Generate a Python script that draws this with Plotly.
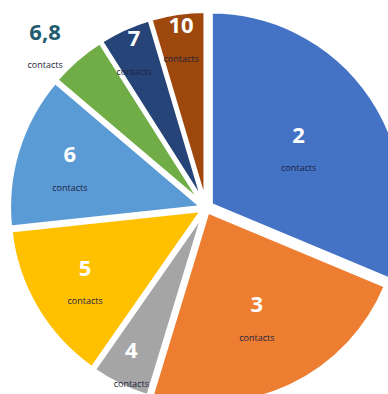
import plotly.graph_objects as go

labels = ["2", "3", "4", "5", "6", "6,8", "7", "10"]
values = [31.3, 23.4, 5.0, 13.6, 12.9, 4.8, 4.4, 4.6]
colors = ["#4472C4", "#ED7D31", "#A5A5A5", "#FFC000", "#5B9BD5", "#70AD47", "#264478", "#9E480E"]
sub = "contacts"
positions = ["inside", "inside", "inside", "inside", "inside", "outside", "inside", "inside"]
pulls = [0.03, 0.02, 0.02, 0.02, 0.02, 0.02, 0.02, 0.02]

fig = go.Figure(go.Pie(
    labels=labels, values=values, sort=False, direction="clockwise", rotation=0,
    marker=dict(colors=colors, line=dict(color="white", width=4)),
    pull=pulls,
    textposition=positions,
    insidetextorientation="horizontal",
    texttemplate="<b>%{label}</b><br><span style='font-size:9px;color:#1c2440'>" + sub + "</span>",
    textfont=dict(family="Open Sans", size=22, color="white"),
    outsidetextfont=dict(family="Open Sans", size=22, color="#1F5C70"),
    showlegend=False,
    hoverinfo="skip",
))
fig.update_layout(
    width=428, height=434,
    margin=dict(l=0, r=0, t=0, b=0),
    paper_bgcolor="white",
    uniformtext=dict(minsize=22, mode="show"),
)
fig.write_html(
    "out.html",
    post_script=(
        "document.documentElement.style.overflow='hidden';"
        "document.body.style.overflow='hidden';document.body.style.margin='0';"
        "var d=document.querySelector('.plotly-graph-div');"
        "d.style.position='relative';d.style.left='-7px';d.style.top='-9px';"
    ),
)
